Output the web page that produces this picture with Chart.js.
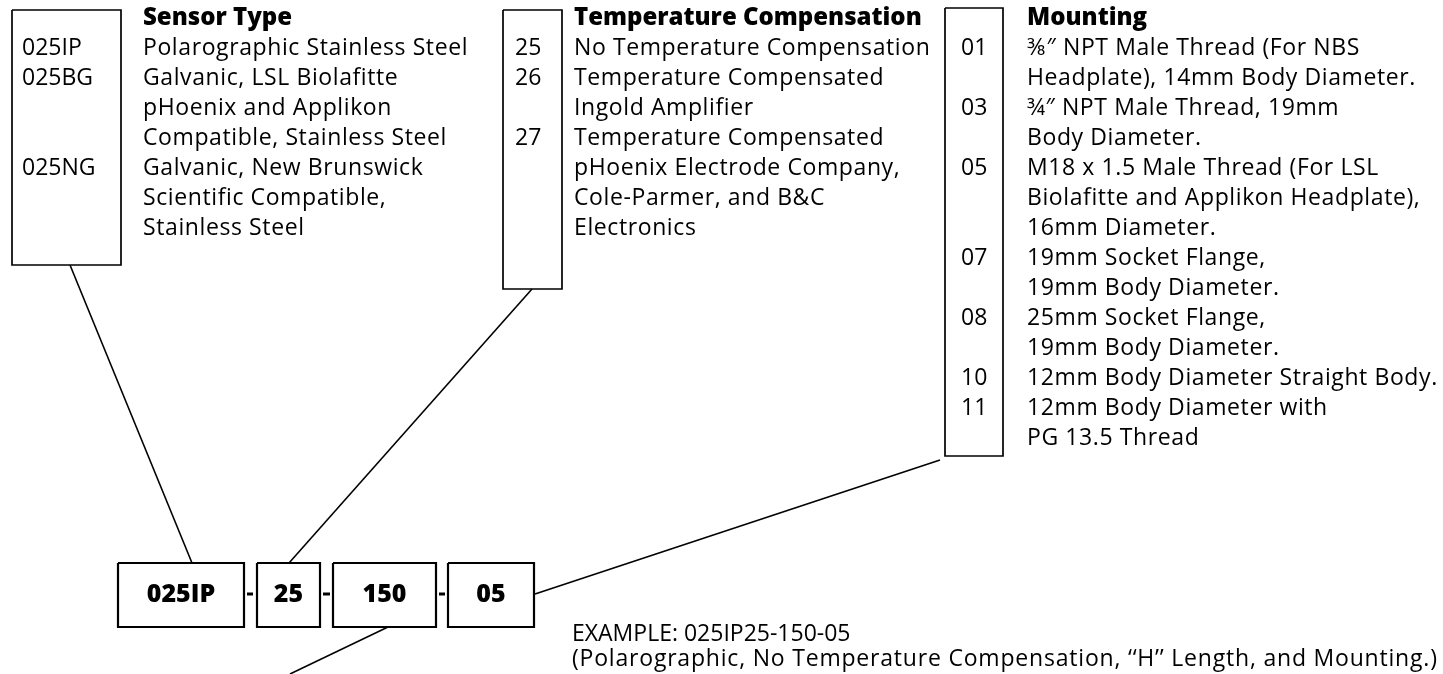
<!DOCTYPE html>
<html>
<head>
<meta charset="utf-8">
<title>Sensor ordering code</title>
<script src="https://cdn.jsdelivr.net/npm/chart.js@4"></script>
<style>
  html, body { margin: 0; padding: 0; background: #fff; }
  #wrap { width: 1443px; height: 674px; }
</style>
</head>
<body>
<div id="wrap"><canvas id="chart" width="1443" height="674"></canvas></div>
<script>
// ---- content ----
const sensorTitle = "Sensor Type";
const sensorCodes = ["025IP", "025BG", "025NG"];
const sensorCodeRows = [0, 1, 4];
const sensorLines = [
  "Polarographic Stainless Steel",
  "Galvanic, LSL Biolafitte",
  "pHoenix and Applikon",
  "Compatible, Stainless Steel",
  "Galvanic, New Brunswick",
  "Scientific Compatible,",
  "Stainless Steel"
];

const tempTitle = "Temperature Compensation";
const tempCodes = ["25", "26", "27"];
const tempCodeRows = [0, 1, 3];
const tempLines = [
  "No Temperature Compensation",
  "Temperature Compensated",
  "Ingold Amplifier",
  "Temperature Compensated",
  "pHoenix Electrode Company,",
  "Cole-Parmer, and B&C",
  "Electronics"
];

const mountTitle = "Mounting";
const mountCodes = ["01", "03", "05", "07", "08", "10", "11"];
const mountCodeRows = [0, 2, 4, 7, 9, 11, 12];
const mountLines = [
  "⅜″ NPT Male Thread (For NBS",
  "Headplate), 14mm Body Diameter.",
  "¾″ NPT Male Thread, 19mm",
  "Body Diameter.",
  "M18 x 1.5 Male Thread (For LSL",
  "Biolafitte and Applikon Headplate),",
  "16mm Diameter.",
  "19mm Socket Flange,",
  "19mm Body Diameter.",
  "25mm Socket Flange,",
  "19mm Body Diameter.",
  "12mm Body Diameter Straight Body.",
  "12mm Body Diameter with",
  "PG 13.5 Thread"
];

const partSegments = ["025IP", "25", "150", "05"];
const exampleLines = [
  "EXAMPLE: 025IP25-150-05",
  "(Polarographic, No Temperature Compensation, ‘‘H’’ Length, and Mounting.)"
];

// ---- layout (canvas units) ----
const W = 1443, H = 674;
const FONT = "'Open Sans', Lato, sans-serif";
const rowTop = 48, rowStep = 30, titleY = 18;

const columns = [
  { title: sensorTitle, codes: sensorCodes, rows: sensorCodeRows, lines: sensorLines,
    box: [12, 10, 121, 265], codeX: 22, textX: 143 },
  { title: tempTitle, codes: tempCodes, rows: tempCodeRows, lines: tempLines,
    box: [503, 10, 562, 289], codeX: 515, textX: 574 },
  { title: mountTitle, codes: mountCodes, rows: mountCodeRows, lines: mountLines,
    box: [945, 8, 1003, 456], codeX: 961, textX: 1027 }
];

const partBoxes = [[118, 563, 244, 627], [257, 563, 320, 627], [333, 563, 436, 627], [448, 563, 534, 627]];
const dashes = [[247, 253], [323, 330], [439, 445]];
const dashY = 594;
const connectors = [
  [[70, 265], [192, 563]],
  [[532, 289], [289, 563]],
  [[535, 594], [940, 460]],
  [[388, 627], [290, 674]]
];

function rect(b) {
  return [{x: b[0], y: b[1]}, {x: b[2], y: b[1]}, {x: b[2], y: b[3]}, {x: b[0], y: b[3]}, {x: b[0], y: b[1]}];
}
function seg(pts) { return pts.map(p => ({x: p[0], y: p[1]})); }

const datasets = [];
columns.forEach(c => datasets.push({ data: rect(c.box), borderWidth: 1.7 }));
partBoxes.forEach(b => datasets.push({ data: rect(b), borderWidth: 2.2 }));
dashes.forEach(d => datasets.push({ data: seg([[d[0], dashY], [d[1], dashY]]), borderWidth: 3 }));
connectors.forEach(c => datasets.push({ data: seg(c), borderWidth: 1.6 }));
datasets.forEach(d => {
  d.showLine = true;
  d.pointRadius = 0;
  d.borderColor = "#000";
  d.fill = false;
  d.tension = 0;
});

const textPlugin = {
  id: "labels",
  afterDatasetsDraw(chart) {
    const ctx = chart.ctx;
    const sx = v => chart.scales.x.getPixelForValue(v);
    const sy = v => chart.scales.y.getPixelForValue(v);
    ctx.save();
    ctx.fillStyle = "#000";
    ctx.textBaseline = "middle";
    ctx.textAlign = "left";

    columns.forEach(c => {
      ctx.letterSpacing = "0px";
      ctx.font = "800 24px " + FONT;
      ctx.fillText(c.title, sx(c.textX), sy(titleY));
      ctx.font = "23px " + FONT;
      c.codes.forEach((t, i) => ctx.fillText(t, sx(c.codeX), sy(rowTop + c.rows[i] * rowStep)));
      ctx.letterSpacing = "0.6px";
      c.lines.forEach((t, i) => ctx.fillText(t, sx(c.textX), sy(rowTop + i * rowStep)));
    });

    ctx.letterSpacing = "0px";
    ctx.textAlign = "center";
    ctx.font = "800 25px " + FONT;
    partSegments.forEach((t, i) => {
      const b = partBoxes[i];
      ctx.fillText(t, sx((b[0] + b[2]) / 2), sy((b[1] + b[3]) / 2));
    });

    ctx.textAlign = "left";
    ctx.font = "23px " + FONT;
    ctx.fillText(exampleLines[0], sx(572), sy(634));
    ctx.letterSpacing = "0.8px";
    ctx.fillText(exampleLines[1], sx(572), sy(659));
    ctx.restore();
  }
};

new Chart(document.getElementById("chart"), {
  type: "scatter",
  data: { datasets },
  options: {
    responsive: false,
    animation: false,
    devicePixelRatio: 1,
    layout: { padding: 0 },
    plugins: { legend: { display: false }, tooltip: { enabled: false } },
    scales: {
      x: { type: "linear", min: 0, max: W, display: false },
      y: { type: "linear", min: 0, max: H, reverse: true, display: false }
    }
  },
  plugins: [textPlugin]
});
</script>
</body>
</html>
